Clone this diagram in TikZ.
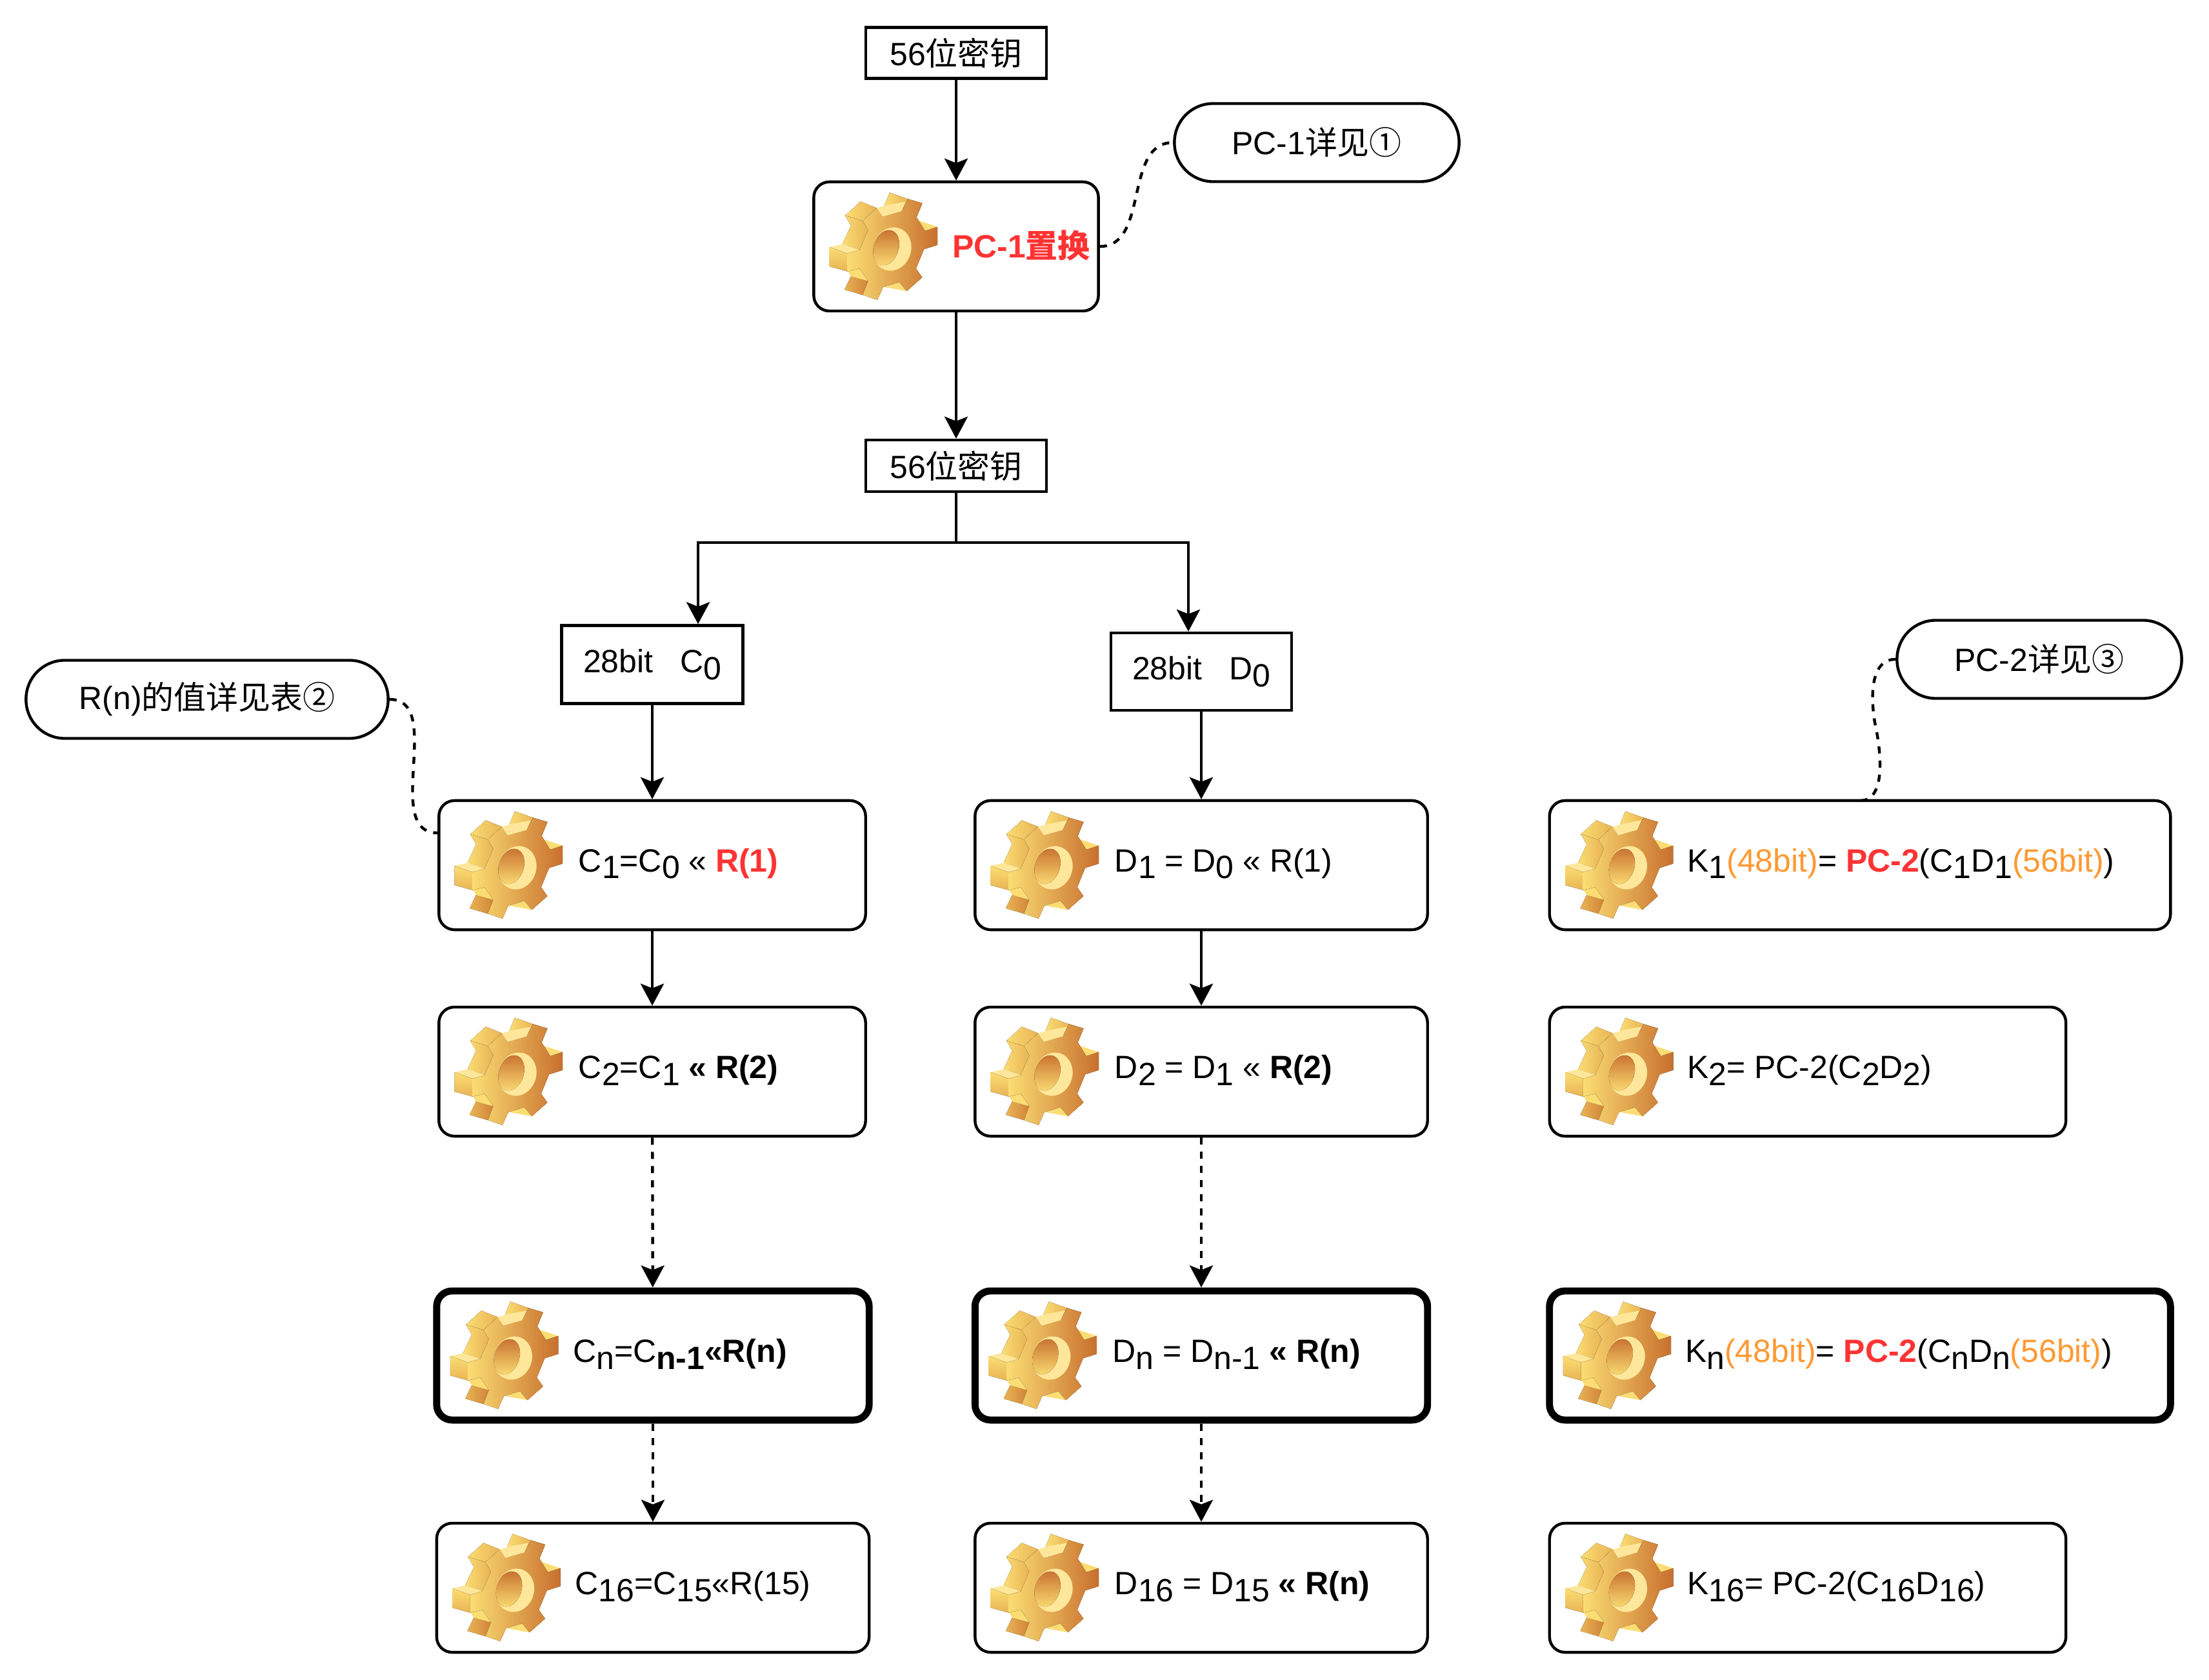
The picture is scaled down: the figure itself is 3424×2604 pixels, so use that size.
\documentclass[tikz,border=0pt]{standalone}
\usepackage{fontspec}
\setmainfont{Liberation Sans}
\newfontfamily\cjk{Noto Sans CJK SC}
\usetikzlibrary{arrows.meta, positioning, calc}
\definecolor{hotred}{HTML}{FF3333}
\definecolor{softorange}{HTML}{FF9933}
\definecolor{gearlight}{HTML}{FBDD73}
\definecolor{gearpale}{HTML}{FEE79A}
\definecolor{gearmid}{HTML}{E9B455}
\definecolor{geardark}{HTML}{C86F2E}
\newcommand{\lowsub}[1]{\raisebox{-0.22em}{#1}}
\newcommand{\hotbf}[1]{\textcolor{hotred}{\textbf{#1}}}
\newcommand{\softor}[1]{\textcolor{softorange}{#1}}
\tikzset{
    keybox/.style={rectangle, draw=black, line width=1.25pt, inner sep=0pt},
    stepbox/.style={rectangle, rounded corners=0.24cm, draw=black, line width=1.25pt, inner sep=0pt, minimum height=2cm},
    stepboxbold/.style={stepbox, line width=3.1pt},
    notebox/.style={rectangle, rounded corners=0.6cm, draw=black, line width=1.25pt, inner sep=0pt, minimum height=1.21cm},
    steptext/.style={anchor=base west, inner sep=0pt},
    flowarrow/.style={-{Stealth[length=0.34cm,width=0.36cm,inset=0.07cm]}, line width=1.25pt},
    flowdash/.style={flowarrow, dash pattern=on 0.11cm off 0.11cm},
    notelink/.style={line width=1.25pt, dash pattern=on 0.11cm off 0.11cm},
    gearicon/.pic={
        \begin{scope}[x=0.003333cm, y=-0.003333cm, shift={(-396,-359)}]
            % teeth behind the face
            \fill[left color=gearlight, right color=gearmid] (425,108) -- (510,138) -- (487,200) -- (400,170) -- cycle;
            \fill[left color=gearmid, right color=gearlight] (510,138) -- (577,158) -- (550,225) -- (487,200) -- cycle;
            \fill[left color=gearlight, right color=gearmid] (290,150) -- (365,180) -- (300,240) -- (218,215) -- cycle;
            \fill[left color=gearlight, right color=gearmid] (218,215) -- (300,240) -- (325,283) -- (285,375) -- (205,348) -- (245,262) -- cycle;
            \fill[gearpale] (145,362) -- (205,348) -- (285,375) -- (228,392) -- cycle;
            \fill[top color=gearlight, bottom color=gearmid] (145,362) -- (228,392) -- (228,475) -- (145,452) -- cycle;
            \fill[left color=gearmid, right color=geardark!70!gearmid] (245,498) -- (325,520) -- (300,585) -- (215,560) -- cycle;
            \fill[gearlight] (228,470) -- (285,462) -- (325,520) -- (245,498) -- cycle;
            \fill[gearlight] (555,237) -- (648,268) -- (590,287) -- cycle;
            \fill[gearlight] (400,548) -- (470,525) -- (505,567) -- cycle;
            % front face
            \fill[left color=gearlight, right color=geardark] (300,240) -- (365,180) -- (392,220) -- (480,195) -- (510,138) -- (577,158) -- (550,222) -- (590,287) -- (648,268) -- (648,352) -- (585,372) -- (548,462) -- (577,503) -- (505,567) -- (470,525) -- (395,548) -- (368,608) -- (300,585) -- (325,520) -- (285,462) -- (228,475) -- (228,392) -- (285,375) -- (325,283) -- cycle;
            \fill[gearpale] (365,180) -- (392,220) -- (480,195) -- (500,150) -- (420,165) -- cycle;
            % hole
            \fill[gearpale, rotate around={-18:(437,371)}] (437,371) ellipse [x radius=88, y radius=102];
            \fill[top color=geardark, bottom color=gearlight, rotate around={-18:(409,365)}] (409,365) ellipse [x radius=58, y radius=84];
        \end{scope}
    }
}
\begin{document}
\begin{tikzpicture}[x=0.01cm, y=-0.01cm]
    \useasboundingbox (0,0) rectangle (3424,2604);
    \fontsize{14.2}{17}\selectfont

    % key blocks
    \node[keybox, minimum width=2.8cm, minimum height=0.79cm] (key1) at (1482,82) {56{\cjk 位密钥}};
    \node[stepbox, minimum width=4.41cm] (pcone) at (1482,382) {};
    \node[keybox, minimum width=2.8cm, minimum height=0.8cm] (key2) at (1482,722) {56{\cjk 位密钥}};
    \node[keybox, minimum width=2.81cm, minimum height=1.21cm] (c0) at (1011,1030) {28bit\ \ \ C\lowsub{0}};
    \node[keybox, minimum width=2.8cm, minimum height=1.2cm] (d0) at (1862,1041) {28bit\ \ \ D\lowsub{0}};
    \coordinate (split) at (1482,841);

    % C column
    \node[stepbox, minimum width=6.61cm] (c1) at (1011,1341) {};
    \node[stepbox, minimum width=6.61cm] (c2) at (1011,1661) {};
    \node[stepboxbold, minimum width=6.7cm] (cn) at (1012,2101) {};
    \node[stepbox, minimum width=6.7cm] (c16) at (1012,2461) {};

    % D column
    \node[stepbox, minimum width=7.01cm] (d1) at (1862,1341) {};
    \node[stepbox, minimum width=7.01cm] (d2) at (1862,1661) {};
    \node[stepboxbold, minimum width=7.01cm] (dn) at (1862,2101) {};
    \node[stepbox, minimum width=7.01cm] (d16) at (1862,2461) {};

    % K column
    \node[stepbox, minimum width=9.62cm] (k1) at (2883,1341) {};
    \node[stepbox, minimum width=8cm] (k2) at (2802,1661) {};
    \node[stepboxbold, minimum width=9.62cm] (kn) at (2883,2101) {};
    \node[stepbox, minimum width=8cm] (k16) at (2802,2461) {};

    % gears
    \foreach \boxname in {pcone,c1,c2,cn,c16,d1,d2,dn,d16,k1,k2,kn,k16}
        \pic at ([xshift=1.1cm]\boxname.west) {gearicon};

    % box texts
    \node[steptext, text=hotred, font=\bfseries] (pconet) at ([xshift=2.16cm,yshift=-0.18cm]pcone.west) {PC-1{\cjk\bfseries 置换}};
    \node[steptext] (c1t) at ([xshift=2.18cm,yshift=-0.1cm]c1.west) {C\lowsub{1}=C\lowsub{0} \textless\textless\ \hotbf{R(1)}};
    \node[steptext] (c2t) at ([xshift=2.18cm,yshift=-0.1cm]c2.west) {C\lowsub{2}=C\lowsub{1} \textbf{\textless\textless\ R(2)}};
    \node[steptext] (cnt) at ([xshift=2.16cm,yshift=-0.1cm]cn.west) {C\lowsub{n}=C\lowsub{\textbf{n-1}}\textbf{\textless\textless R(n)}};
    \node[steptext] (c16t) at ([xshift=2.16cm,yshift=-0.1cm]c16.west) {C\lowsub{16}=C\lowsub{15}\textless\textless R(15)};
    \node[steptext] (d1t) at ([xshift=2.18cm,yshift=-0.1cm]d1.west) {D\lowsub{1} = D\lowsub{0} \textless\textless\ R(1)};
    \node[steptext] (d2t) at ([xshift=2.18cm,yshift=-0.1cm]d2.west) {D\lowsub{2} = D\lowsub{1} \textless\textless\ \textbf{R(2)}};
    \node[steptext] (dnt) at ([xshift=2.18cm,yshift=-0.1cm]dn.west) {D\lowsub{n} = D\lowsub{n-1} \textbf{\textless\textless\ R(n)}};
    \node[steptext] (d16t) at ([xshift=2.18cm,yshift=-0.1cm]d16.west) {D\lowsub{16} = D\lowsub{15} \textbf{\textless\textless\ R(n)}};
    \node[steptext] (k1t) at ([xshift=2.15cm,yshift=-0.1cm]k1.west) {K\lowsub{1}\softor{(48bit)}= \hotbf{PC-2}(C\lowsub{1}D\lowsub{1}\softor{(56bit)})};
    \node[steptext] (k2t) at ([xshift=2.15cm,yshift=-0.1cm]k2.west) {K\lowsub{2}= PC-2(C\lowsub{2}D\lowsub{2})};
    \node[steptext] (knt) at ([xshift=2.15cm,yshift=-0.1cm]kn.west) {K\lowsub{n}\softor{(48bit)}= \hotbf{PC-2}(C\lowsub{n}D\lowsub{n}\softor{(56bit)})};
    \node[steptext] (k16t) at ([xshift=2.15cm,yshift=-0.1cm]k16.west) {K\lowsub{16}= PC-2(C\lowsub{16}D\lowsub{16})};

    % notes
    \node[notebox, minimum width=4.41cm] (pc1note) at (2041,221) {PC-1{\cjk 详见①}};
    \node[notebox, minimum width=5.61cm] (rnnote) at (321,1084) {R(n){\cjk 的值详见表②}};
    \node[notebox, minimum width=4.41cm] (pc2note) at (3161,1022) {PC-2{\cjk 详见③}};
    \coordinate (k1top) at (2884,1241);

    % solid connectors
    \draw[flowarrow] (key1) -- (pcone);
    \draw[flowarrow] (pcone) -- (key2);
    \draw[line width=1.25pt] (key2) -- (split);
    \draw[flowarrow] (split) -| ([xshift=0.71cm]c0.north);
    \draw[flowarrow] (split) -| ([xshift=-0.2cm]d0.north);
    \draw[flowarrow] (c0) -- (c1);
    \draw[flowarrow] (d0) -- (d1);
    \draw[flowarrow] (c1) -- (c2);
    \draw[flowarrow] (d1) -- (d2);

    % dashed connectors
    \draw[flowdash] (c2) -- (cn);
    \draw[flowdash] (cn) -- (c16);
    \draw[flowdash] (d2) -- (dn);
    \draw[flowdash] (dn) -- (d16);

    % note links
    \draw[notelink] (pcone.east) to[out=0, in=180] (pc1note.west);
    \draw[notelink] (rnnote.east) to[out=0, in=180] ([yshift=0.5cm]c1.west);
    \draw[notelink] (pc2note.west) .. controls (2905,1021) and (2897,1065) .. (2906,1120) .. controls (2915,1160) and (2925,1240) .. (k1top);
\end{tikzpicture}
\end{document}
